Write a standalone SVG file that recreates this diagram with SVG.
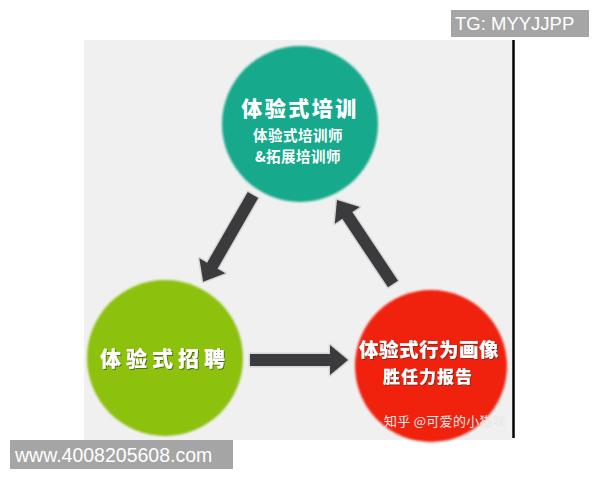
<svg xmlns="http://www.w3.org/2000/svg" width="600" height="480" viewBox="0 0 600 480">
  <defs>
    <style>
      .cjk { font-family: "Noto Sans CJK SC", "Noto Sans", sans-serif; text-anchor: middle; dominant-baseline: central; }
      .title { font-weight: 900; fill: #ffffff; }
      .sub { font-weight: 700; fill: #ffffff; }
      .arrow { fill: #3b3b3d; stroke: #d6d6d6; stroke-width: 3; stroke-linejoin: round; paint-order: stroke; }
      .tag { fill: #a5a5a5; }
      .tagtext { font-family: "Liberation Sans", Arial, sans-serif; fill: #ffffff; }
    </style>
    <filter id="soft" x="-10%" y="-10%" width="120%" height="120%">
      <feGaussianBlur stdDeviation="0.8"/>
    </filter>
    <filter id="tshadow" x="-10%" y="-30%" width="120%" height="160%">
      <feDropShadow dx="1" dy="1" stdDeviation="0.6" flood-color="#333333" flood-opacity="0.6"/>
    </filter>
    <path id="arr" d="M0,-6 L80,-6 L80,-15 L98,0 L80,15 L80,6 L0,6 Z"/>
  </defs>

  <rect x="0" y="0" width="600" height="480" fill="#ffffff"/>
  <rect x="84" y="40" width="428" height="400" fill="#f0f0f0"/>
  <line x1="513.5" y1="40" x2="513.5" y2="438" stroke="#000000" stroke-width="2.5"/>

  <g id="connectors">
    <g transform="translate(253,195) rotate(119.9) scale(1.02,1)">
      <use href="#arr" class="arrow"/>
    </g>
    <g transform="translate(393,284) rotate(-123.7) scale(1.03,1)">
      <use href="#arr" class="arrow"/>
    </g>
    <g transform="translate(250,360)">
      <use href="#arr" class="arrow"/>
    </g>
  </g>

  <g id="node-training">
    <circle cx="300" cy="124" r="78" fill="#17a98b" filter="url(#soft)"/>
    <text class="cjk title" x="300" y="107" font-size="21" letter-spacing="2.5">体验式培训</text>
    <text class="cjk sub" x="298" y="134" font-size="14.5" letter-spacing="0.5">体验式培训师</text>
    <text class="cjk sub" x="298" y="155" font-size="14.5" letter-spacing="0.5">&amp;拓展培训师</text>
  </g>

  <g id="node-recruit">
    <circle cx="165" cy="358" r="78" fill="#8cc10b" filter="url(#soft)"/>
    <text class="cjk title" x="165" y="357" font-size="21" letter-spacing="5" fill="#f8fbe8" filter="url(#tshadow)">体验式招聘</text>
  </g>

  <g id="node-profile">
    <circle cx="431" cy="366" r="76" fill="#f0200c" filter="url(#soft)"/>
    <text class="cjk title" x="429" y="348" font-size="19.5" letter-spacing="0.5" filter="url(#tshadow)">体验式行为画像</text>
    <text class="cjk title" x="428" y="375" font-size="17" letter-spacing="1" filter="url(#tshadow)">胜任力报告</text>
    <text class="cjk" x="445" y="420" font-size="13" fill="#e8e8e8" letter-spacing="0.3">知乎 @可爱的小猫咪</text>
  </g>

  <g id="tag-tg">
    <rect class="tag" x="451" y="10" width="138" height="27"/>
    <text class="tagtext" x="455" y="30" font-size="18.5">TG: MYYJJPP</text>
  </g>
  <g id="tag-www">
    <rect class="tag" x="10" y="440" width="223" height="29"/>
    <text class="tagtext" x="15" y="462" font-size="19.5">www.4008205608.com</text>
  </g>
</svg>
